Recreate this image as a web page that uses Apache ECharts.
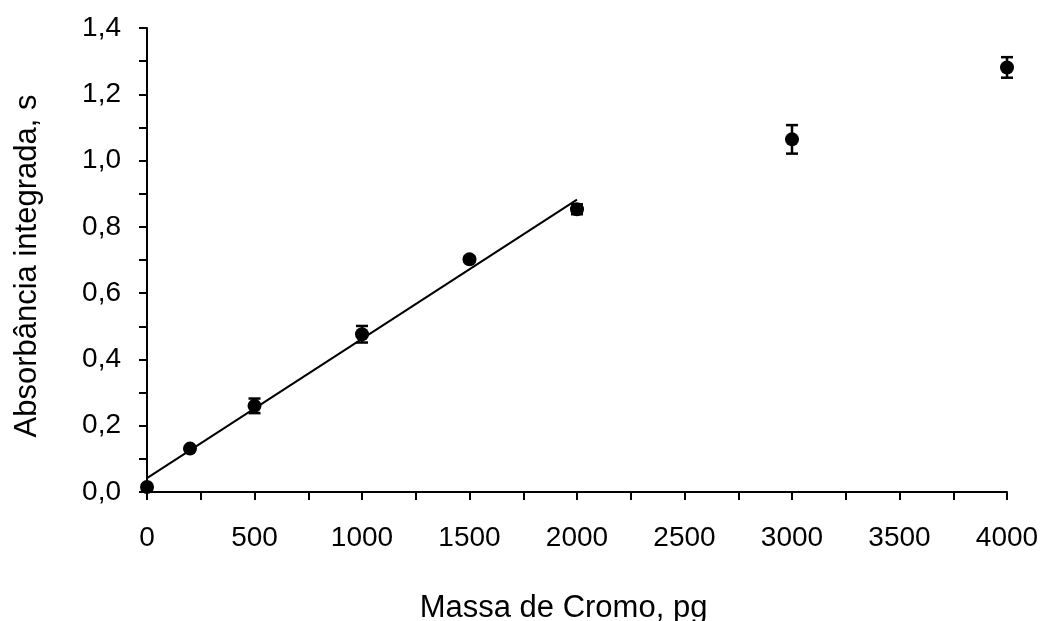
<!DOCTYPE html>
<html>
<head>
<meta charset="utf-8">
<script src="https://cdn.jsdelivr.net/npm/echarts@6/dist/echarts.min.js"></script>
<style>
  html, body { margin: 0; padding: 0; background: #fff; }
  #chart { width: 1041px; height: 621px; }
</style>
</head>
<body>
<div id="chart"></div>
<script>
// Chromium mass (pg) and integrated absorbance (s) with standard deviations
const massPg = [0, 200, 500, 1000, 1500, 2000, 3000, 4000];
const absorbance = [0.015, 0.131, 0.260, 0.476, 0.702, 0.853, 1.064, 1.281];
const absorbanceSd = [0.005, 0.006, 0.022, 0.025, 0.008, 0.015, 0.043, 0.031];

// Linear calibration fit over the 0–2000 pg range
const fitX = [0, 2000];
const fitIntercept = 0.042;
const fitSlope = 0.00042;

const FONT = '"Liberation Sans", Arial, sans-serif';

const points = massPg.map((x, i) => [x, absorbance[i]]);
const errorBars = massPg.map((x, i) => [x, absorbance[i] - absorbanceSd[i], absorbance[i] + absorbanceSd[i]]);
const fitLine = fitX.map(x => [x, fitIntercept + fitSlope * x]);

const chart = echarts.init(document.getElementById('chart'), null, { renderer: 'canvas' });

chart.setOption({
  animation: false,
  backgroundColor: '#ffffff',
  grid: { left: 147, right: 34, top: 28, bottom: 129, containLabel: false, outerBoundsMode: 'none' },
  xAxis: {
    type: 'value',
    min: 0, max: 4000, interval: 250,
    name: 'Massa de Cromo, pg',
    nameLocation: 'middle',
    nameGap: 101,
    nameTextStyle: { fontFamily: FONT, fontSize: 31, color: '#000', padding: [0, 27, 0, 0] },
    axisLine: { show: true, lineStyle: { color: '#000', width: 2 } },
    axisTick: { show: true, inside: false, length: 8, lineStyle: { color: '#000', width: 2 } },
    axisLabel: {
      fontFamily: FONT, fontSize: 28, color: '#000', margin: 32,
      formatter: v => (v % 500 === 0 ? String(v) : '')
    },
    splitLine: { show: false }
  },
  yAxis: {
    type: 'value',
    min: 0, max: 1.4, interval: 0.1,
    name: 'Absorbância integrada, s',
    nameLocation: 'middle',
    nameGap: 104,
    nameTextStyle: { fontFamily: FONT, fontSize: 31, color: '#000', padding: [0, 12, 0, 0] },
    axisLine: { show: true, lineStyle: { color: '#000', width: 2 } },
    axisTick: { show: true, inside: false, length: 8, lineStyle: { color: '#000', width: 2 } },
    axisLabel: {
      fontFamily: FONT, fontSize: 28, color: '#000', margin: 26,
      formatter: v => {
        const k = Math.round(v * 10);
        return k % 2 === 0 ? (k / 10).toFixed(1).replace('.', ',') : '';
      }
    },
    splitLine: { show: false }
  },
  series: [
    {
      type: 'line',
      data: fitLine,
      showSymbol: false,
      symbol: 'none',
      lineStyle: { color: '#000', width: 2 },
      z: 2
    },
    {
      type: 'custom',
      data: errorBars,
      z: 3,
      renderItem: (params, api) => {
        const x = api.value(0);
        const lo = api.coord([x, api.value(1)]);
        const hi = api.coord([x, api.value(2)]);
        const cap = 6;
        const style = { stroke: '#000', lineWidth: 2.5, fill: null };
        return {
          type: 'group',
          children: [
            { type: 'line', shape: { x1: lo[0], y1: lo[1], x2: hi[0], y2: hi[1] }, style },
            { type: 'line', shape: { x1: hi[0] - cap, y1: hi[1], x2: hi[0] + cap, y2: hi[1] }, style },
            { type: 'line', shape: { x1: lo[0] - cap, y1: lo[1], x2: lo[0] + cap, y2: lo[1] }, style }
          ]
        };
      }
    },
    {
      type: 'scatter',
      data: points,
      symbol: 'circle',
      symbolSize: 14,
      itemStyle: { color: '#000', opacity: 1 },
      z: 4
    }
  ]
});
</script>
</body>
</html>
